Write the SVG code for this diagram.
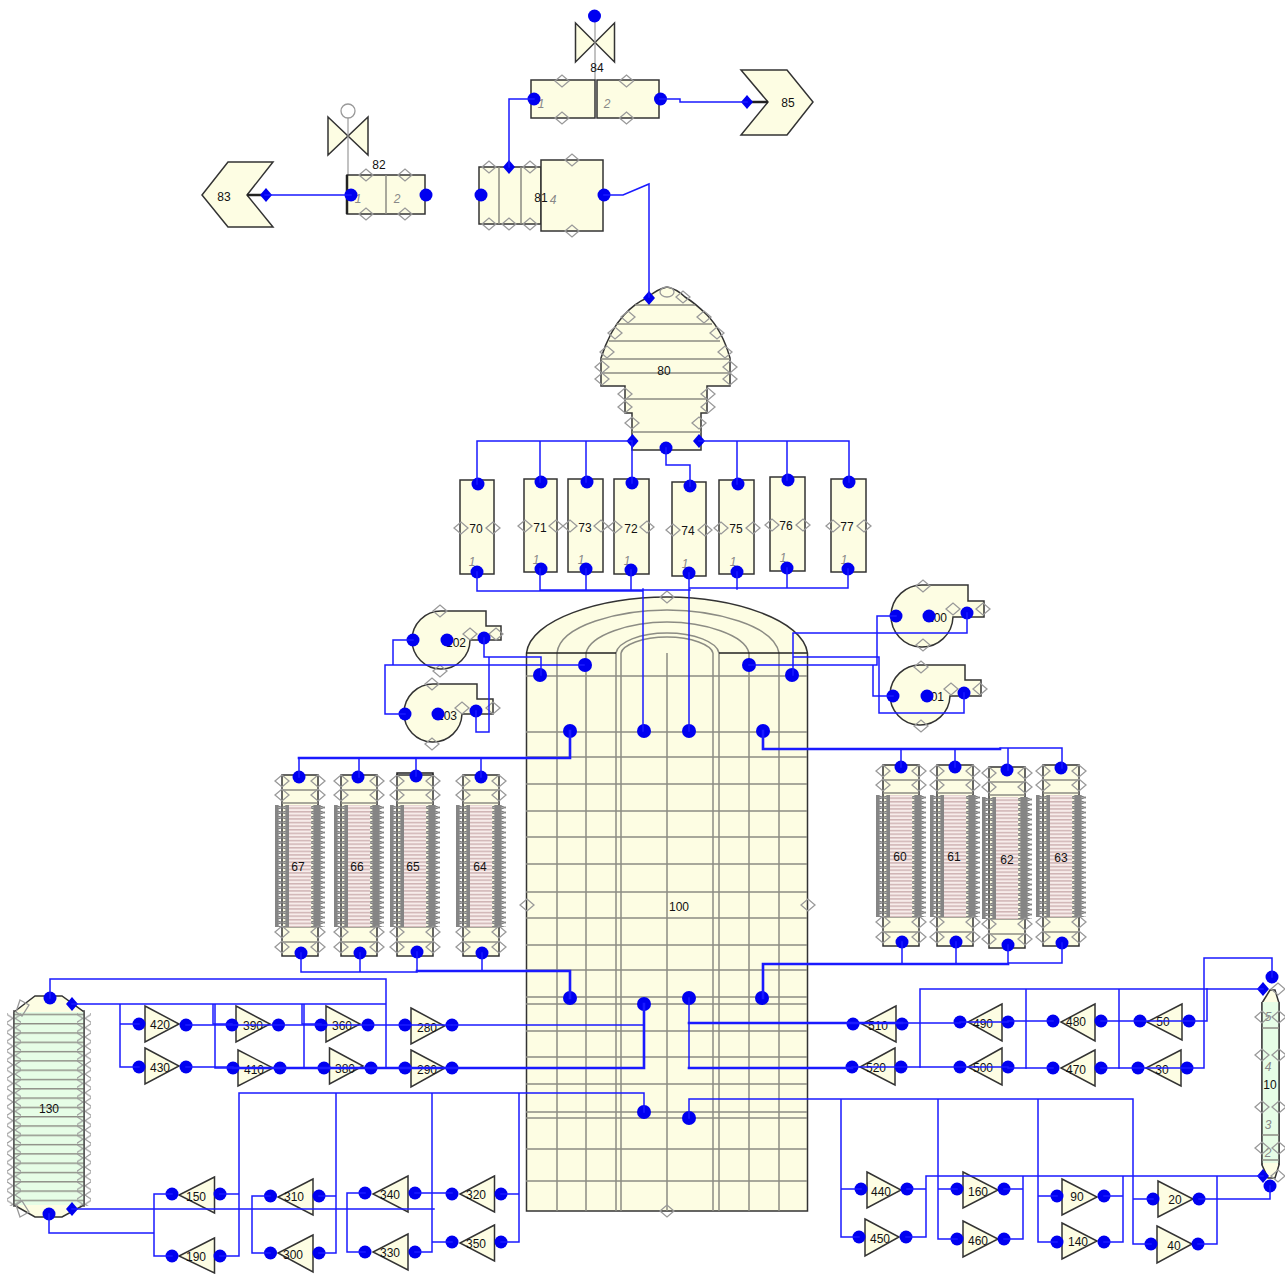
<svg xmlns="http://www.w3.org/2000/svg" width="1285" height="1274" viewBox="0 0 1285 1274">
<style>
.n{fill:#fdfde3;stroke:#333;stroke-width:1.5}
.e{fill:#e6fde6;stroke:#333;stroke-width:1.5}
.g{fill:none;stroke:#8c8c84;stroke-width:1.5}
.k{fill:none;stroke:#222;stroke-width:1.5}
.p{fill:#0000f0}
circle.p{r:6.5px}
#n100 circle.p{r:7px}
.t{font:12px "Liberation Sans",Arial,sans-serif;fill:#111;text-anchor:middle}
.l{font:italic 12px "Liberation Sans",Arial,sans-serif;fill:#888;text-anchor:middle}
.c{fill:none;stroke:#1a1aff;stroke-width:1.5;stroke-linecap:square}
.b{stroke-width:2.6}
.dm{fill:none;stroke:#999;stroke-width:1.3}
</style>
<defs>
<path id="d" class="dm" d="M-7 0L0-6L7 0L0 6Z"/>
<path id="bd" class="p" d="M-6 0L0-7L6 0L0 7Z"/>
<pattern id="ds" width="14" height="5" patternUnits="userSpaceOnUse"><path d="M0 2.5L7 0L14 2.5L7 5Z" fill="#bcbcbc" stroke="#7c7c7c" stroke-width="1.2"/><rect x="3.5" width="7" height="5" fill="#858585"/></pattern>
<pattern id="pk" width="22" height="3.6" patternUnits="userSpaceOnUse"><rect width="22" height="3.6" fill="#f7ecea"/><rect width="22" height="1.5" fill="#cfb4b4"/></pattern>
<pattern id="gl" width="70" height="9.3" patternUnits="userSpaceOnUse"><path d="M0 .7H70" stroke="#8c8c84" stroke-width="1.5"/></pattern>
<pattern id="sd" width="14" height="9.3" patternUnits="userSpaceOnUse"><path d="M1 4.6L7 .7L13 4.6L7 8.6Z" fill="none" stroke="#999" stroke-width="1.2"/></pattern>
<g id="hx">
<rect class="n" width="36" height="181"/>
<path class="g" d="M0 15H36M0 28H36M0 152H36M0 167H36"/>
<rect x="7" y="30" width="22" height="122" fill="url(#pk)"/>
<rect x="-7" y="30" width="14" height="122" fill="url(#ds)"/>
<rect x="29" y="30" width="14" height="122" fill="url(#ds)"/>
<use href="#d" y="6"/><use href="#d" y="20"/><use href="#d" x="36" y="6"/><use href="#d" x="36" y="20"/>
<use href="#d" y="157"/><use href="#d" y="172"/><use href="#d" x="36" y="157"/><use href="#d" x="36" y="172"/>
</g>
</defs>

<g id="n100">
<path class="n" d="M526.5 653C530 620 600 597 667 597C734 597 803 620 807.5 653V1211H526.5Z"/>
<path class="g" d="M557 653V1211M586 653V1211M616 653V1211M621 653V1211M667 653V1211M713 653V1211M719 653V1211M749 653V1211M779 653V1211"/>
<path class="g" d="M557 653C560 625 620 610 667 610C714 610 774 625 779 653M586 653C590 635 630 622 667 622C704 622 745 635 749 653M616 653C618 642 640 633 667 633C694 633 717 642 719 653M621 653C623 645 642 637 667 637C692 637 711 645 713 653"/>
<path class="g" d="M526 676H807M526 732H807M526 757H807M526 784H807M526 811H807M526 837H807M526 864H807M526 892H807M526 918H807M526 945H807M526 970H807M526 997H807M526 1004H807M526 1031H807M526 1057H807M526 1084H807M526 1112H807M526 1118H807M526 1149H807M526 1181H807"/>
<path class="k" d="M526 653H616M719 653H807"/>
<use href="#d" x="667" y="597"/><use href="#d" x="527" y="905"/><use href="#d" x="808" y="905"/><use href="#d" x="667" y="1211"/>
<text class="t" x="679" y="911">100</text>
<circle class="p" cx="540" cy="675" r="7"/><circle class="p" cx="585" cy="665" r="7"/><circle class="p" cx="570" cy="731" r="7"/><circle class="p" cx="644" cy="731" r="7"/><circle class="p" cx="689" cy="731" r="7"/><circle class="p" cx="749" cy="665" r="7"/><circle class="p" cx="792" cy="675" r="7"/><circle class="p" cx="763" cy="731" r="7"/>
<circle class="p" cx="570" cy="998" r="7"/><circle class="p" cx="644" cy="1004" r="7"/><circle class="p" cx="689" cy="998" r="7"/><circle class="p" cx="762" cy="998" r="7"/><circle class="p" cx="644" cy="1112" r="7"/><circle class="p" cx="689" cy="1118" r="7"/>
</g>

<g id="n84">
<path class="n" d="M575.5 23L614.5 62V23L575.5 62Z"/>
<path d="M595 16V80" stroke="#999" stroke-width="1.2"/>
<circle class="p" cx="594.5" cy="16" r="6.5"/>
<rect class="n" x="531" y="80" width="64" height="38"/><rect class="n" x="597" y="80" width="62" height="38"/>
<text class="t" x="597" y="72">84</text><text class="l" x="541" y="108">1</text><text class="l" x="607" y="108">2</text>
<use href="#d" x="562" y="81"/><use href="#d" x="626.5" y="81"/><use href="#d" x="562" y="118"/><use href="#d" x="626.5" y="118"/>
<circle class="p" cx="534" cy="99" r="6.5"/><circle class="p" cx="660.5" cy="99" r="6.5"/>
</g>
<g id="n85">
<polygon class="n" points="741,70 787,70 813,102 787,135 741,135 768,102"/>
<path d="M747 102H768" stroke="#222" stroke-width="2.5"/>
<text class="t" x="788" y="107">85</text><use href="#bd" x="747" y="102"/>
</g>
<g id="n82">
<path class="n" d="M328 117L368 155V117L328 155Z"/>
<path d="M348 118V175" stroke="#999" stroke-width="1.2"/>
<circle cx="348" cy="111" r="7" fill="#fff" stroke="#999" stroke-width="1.3"/>
<rect class="n" x="347" y="175" width="78" height="39"/>
<path class="g" d="M386 175V214"/><path d="M347 175V214" stroke="#222" stroke-width="2.5"/>
<text class="t" x="379" y="169">82</text><text class="l" x="358" y="203">1</text><text class="l" x="397" y="203">2</text>
<use href="#d" x="366" y="175"/><use href="#d" x="405" y="175"/><use href="#d" x="366" y="214"/><use href="#d" x="405" y="214"/>
<circle class="p" cx="351" cy="195" r="6"/><circle class="p" cx="426" cy="195" r="6.5"/>
</g>
<g id="n83">
<polygon class="n" points="273,162 228,162 202,195 228,227 273,227 247,195"/>
<path d="M247 195H265" stroke="#222" stroke-width="2.5"/>
<text class="t" x="224" y="201">83</text><use href="#bd" x="266" y="195"/>
</g>
<g id="n81">
<rect class="n" x="479" y="167" width="62" height="57"/>
<path class="g" d="M499 167V224M521 167V224"/>
<rect class="n" x="541" y="160" width="62" height="71"/>
<text class="t" x="541" y="202">81</text><text class="l" x="553" y="204">4</text>
<use href="#d" x="489" y="167"/><use href="#d" x="530" y="167"/><use href="#d" x="489" y="224"/><use href="#d" x="509" y="224"/><use href="#d" x="530" y="224"/><use href="#d" x="572" y="160"/><use href="#d" x="572" y="231"/>
<circle class="p" cx="481" cy="195" r="6.5"/><circle class="p" cx="604" cy="195" r="7"/><use href="#bd" x="509" y="167"/>
</g>
<g id="n80">
<path class="n" d="M667 287Q657 289 647 298Q635 303 624 315Q610 330 601 358V386H625V413H632V450H701V413H707V386H730V358Q722 330 707 315Q695 303 685 297Q677 289 667 287Z"/>
<path class="g" d="M635 305H695M616 324H712M609 341H720M601 359H730M601 373H730M625 399H707M632 432H701"/>
<ellipse class="dm" cx="667" cy="292" rx="7" ry="5"/>
<use href="#d" x="628" y="317"/><use href="#d" x="615" y="333"/><use href="#d" x="607" y="352"/><use href="#d" x="602" y="367"/><use href="#d" x="602" y="379"/><use href="#d" x="625" y="394"/><use href="#d" x="625" y="407"/><use href="#d" x="632" y="423"/>
<use href="#d" x="704" y="317"/><use href="#d" x="717" y="333"/><use href="#d" x="725" y="352"/><use href="#d" x="730" y="367"/><use href="#d" x="730" y="379"/><use href="#d" x="708" y="394"/><use href="#d" x="708" y="407"/><use href="#d" x="699" y="423"/><use href="#d" x="683" y="297"/>
<text class="t" x="664" y="375">80</text>
<use href="#bd" x="649" y="298"/><use href="#bd" x="632.5" y="441"/><use href="#bd" x="699" y="441"/><circle class="p" cx="666" cy="448" r="6.5"/>
</g>

<g id="n70"><rect class="n" x="460" y="480" width="34" height="94"/><use href="#d" x="461" y="528"/><use href="#d" x="493" y="528"/><text class="t" x="476" y="533">70</text><text class="l" x="472" y="566">1</text><circle class="p" cx="478" cy="484" r="6.5"/><circle class="p" cx="477" cy="572" r="6.5"/></g>
<g id="n71"><rect class="n" x="524" y="479" width="33" height="93"/><use href="#d" x="525" y="526"/><use href="#d" x="556" y="526"/><text class="t" x="540" y="532">71</text><text class="l" x="536" y="564">1</text><circle class="p" cx="541" cy="482" r="6.5"/><circle class="p" cx="541" cy="569" r="6"/></g>
<g id="n73"><rect class="n" x="568" y="479" width="35" height="93"/><use href="#d" x="570" y="526"/><use href="#d" x="601" y="526"/><text class="t" x="585" y="532">73</text><text class="l" x="581" y="564">1</text><circle class="p" cx="587" cy="482" r="6.5"/><circle class="p" cx="586" cy="569" r="6"/></g>
<g id="n72"><rect class="n" x="614" y="479" width="35" height="95"/><use href="#d" x="615" y="527"/><use href="#d" x="647" y="527"/><text class="t" x="631" y="533">72</text><text class="l" x="627" y="565">1</text><circle class="p" cx="632" cy="483" r="6.5"/><circle class="p" cx="631" cy="570" r="6.5"/></g>
<g id="n74"><rect class="n" x="672" y="482" width="34" height="94"/><use href="#d" x="673" y="530"/><use href="#d" x="705" y="530"/><text class="t" x="688" y="535">74</text><text class="l" x="685" y="568">1</text><circle class="p" cx="690" cy="486" r="6.5"/><circle class="p" cx="689" cy="573" r="6.5"/></g>
<g id="n75"><rect class="n" x="719" y="480" width="35" height="94"/><use href="#d" x="721" y="528"/><use href="#d" x="753" y="528"/><text class="t" x="736" y="533">75</text><text class="l" x="733" y="566">1</text><circle class="p" cx="738" cy="484" r="6.5"/><circle class="p" cx="737" cy="572" r="6"/></g>
<g id="n76"><rect class="n" x="770" y="477" width="35" height="94"/><use href="#d" x="772" y="525"/><use href="#d" x="803" y="525"/><text class="t" x="786" y="530">76</text><text class="l" x="783" y="562">1</text><circle class="p" cx="788" cy="480" r="6.5"/><circle class="p" cx="787" cy="568" r="6"/></g>
<g id="n77"><rect class="n" x="831" y="479" width="35" height="93"/><use href="#d" x="833" y="526"/><use href="#d" x="864" y="526"/><text class="t" x="847" y="531">77</text><text class="l" x="844" y="564">1</text><circle class="p" cx="849" cy="482" r="6"/><circle class="p" cx="848" cy="569" r="6"/></g>

<g id="n102"><path class="n" d="M441 611H486V626H501V640H470A29 29 0 1 1 441 611Z"/><use href="#d" x="440" y="611"/><use href="#d" x="440" y="671"/><use href="#d" x="470" y="634"/><use href="#d" x="496" y="634"/><text class="t" x="456" y="647">102</text><circle class="p" cx="413" cy="640" r="6"/><circle class="p" cx="447" cy="640" r="6"/><circle class="p" cx="484" cy="638" r="6"/></g>
<g id="n103"><path class="n" d="M433 684H477V699H493V714H462A29 29 0 1 1 433 684Z"/><use href="#d" x="432" y="684"/><use href="#d" x="432" y="744"/><use href="#d" x="462" y="708"/><use href="#d" x="493" y="708"/><text class="t" x="447" y="720">103</text><circle class="p" cx="405" cy="714" r="6"/><circle class="p" cx="438" cy="714" r="6"/><circle class="p" cx="476" cy="711" r="6"/></g>
<g id="n100b"><path class="n" d="M923 585H968V601H984V617H953A31 31 0 1 1 923 585Z"/><use href="#d" x="923" y="586"/><use href="#d" x="923" y="645"/><use href="#d" x="953" y="609"/><use href="#d" x="983" y="609"/><text class="t" x="937" y="622">100</text><circle class="p" cx="896" cy="616" r="6"/><circle class="p" cx="929" cy="616" r="6"/><circle class="p" cx="967" cy="613" r="6"/></g>
<g id="n101"><path class="n" d="M921 665H965V680H981V696H950A30 30 0 1 1 921 665Z"/><use href="#d" x="921" y="667"/><use href="#d" x="921" y="726"/><use href="#d" x="951" y="689"/><use href="#d" x="980" y="689"/><text class="t" x="934" y="701">101</text><circle class="p" cx="893" cy="696" r="6"/><circle class="p" cx="927" cy="696" r="6"/><circle class="p" cx="964" cy="693" r="6"/></g>

<g id="n67"><use href="#hx" x="282" y="775"/><text class="t" x="298" y="871">67</text><circle class="p" cx="299" cy="777" r="6.5"/><circle class="p" cx="301" cy="953" r="6.5"/></g>
<g id="n66"><use href="#hx" x="341" y="775"/><text class="t" x="357" y="871">66</text><circle class="p" cx="358" cy="777" r="6.5"/><circle class="p" cx="360" cy="953" r="6.5"/></g>
<g id="n65"><use href="#hx" x="397" y="775"/><path class="k" d="M397 775V773H433V775"/><text class="t" x="413" y="871">65</text><circle class="p" cx="416" cy="776" r="6"/><circle class="p" cx="417" cy="952" r="6"/></g>
<g id="n64"><use href="#hx" x="463" y="775"/><text class="t" x="480" y="871">64</text><circle class="p" cx="481" cy="777" r="6"/><circle class="p" cx="482" cy="953" r="6.5"/></g>
<g id="n60"><use href="#hx" x="883" y="765"/><text class="t" x="900" y="861">60</text><circle class="p" cx="901" cy="767" r="6.5"/><circle class="p" cx="902" cy="942" r="6"/></g>
<g id="n61"><use href="#hx" x="937" y="765"/><text class="t" x="954" y="861">61</text><circle class="p" cx="955" cy="767" r="6.5"/><circle class="p" cx="956" cy="942" r="6"/></g>
<g id="n62"><use href="#hx" x="989" y="767"/><text class="t" x="1007" y="864">62</text><circle class="p" cx="1007" cy="770" r="6"/><circle class="p" cx="1008" cy="945" r="6"/></g>
<g id="n63"><use href="#hx" x="1043" y="765"/><text class="t" x="1061" y="862">63</text><circle class="p" cx="1061" cy="768" r="6"/><circle class="p" cx="1062" cy="943" r="6"/></g>

<g id="n130">
<path class="n" d="M14 1012L35 996H62L84 1012V1205L62 1217H35L14 1205Z"/>
<rect class="e" x="14" y="1012" width="70" height="193" style="stroke:none"/>
<rect x="14" y="1013" width="70" height="192" fill="url(#gl)"/>
<rect x="7" y="1013" width="14" height="193" fill="url(#sd)"/><rect x="77" y="1013" width="14" height="193" fill="url(#sd)"/>
<path class="k" d="M14 1010V1207M84 1010V1207" style="stroke:#555"/>
<path class="dm" d="M20 1000L29 1005L22 1016L16 1012ZM20 1217L29 1212L22 1201L16 1205Z"/>
<text class="t" x="49" y="1113">130</text>
<circle class="p" cx="50" cy="998" r="6.5"/><use href="#bd" x="72" y="1004"/><circle class="p" cx="49" cy="1214" r="6.5"/><use href="#bd" x="72" y="1209"/>
</g>
<g id="n10">
<path class="n" d="M1262 1003L1270 990H1275L1279 1003V1165L1275 1178H1268L1262 1165Z"/>
<rect class="e" x="1262" y="1002" width="17" height="161" style="stroke:none"/>
<path class="k" d="M1262 1002V1165M1279 1002V1165" style="stroke:#444"/>
<path class="g" d="M1262 1028H1279M1262 1135H1279M1262 1160H1279"/>
<text class="l" x="1268" y="1021">5</text><text class="l" x="1268" y="1071">4</text><text class="l" x="1268" y="1129">3</text><text class="l" x="1268" y="1157">2</text><text class="t" x="1270" y="1089">10</text>
<use href="#d" x="1262" y="1017"/><use href="#d" x="1279" y="1017"/><use href="#d" x="1262" y="1055"/><use href="#d" x="1279" y="1055"/><use href="#d" x="1262" y="1107"/><use href="#d" x="1279" y="1107"/><use href="#d" x="1262" y="1148"/><use href="#d" x="1279" y="1148"/><use href="#d" x="1278" y="989"/><use href="#d" x="1278" y="1176"/>
<circle class="p" cx="1272" cy="977" r="6.5"/><use href="#bd" x="1263" y="989"/><use href="#bd" x="1263" y="1176"/><circle class="p" cx="1270" cy="1186" r="6.5"/>
</g>

<g id="n420"><polygon class="n" points="145,1006 179,1024 145,1042"/><text class="t" x="160" y="1029">420</text><circle class="p" cx="139" cy="1024" r="6"/><circle class="p" cx="186" cy="1025" r="6"/></g>
<g id="n430"><polygon class="n" points="145,1048 179,1066 145,1084"/><text class="t" x="160" y="1072">430</text><circle class="p" cx="139" cy="1067" r="6"/><circle class="p" cx="186" cy="1067" r="6"/></g>
<g id="n390"><polygon class="n" points="236,1006 270,1024 236,1042"/><text class="t" x="253" y="1030">390</text><circle class="p" cx="232" cy="1025" r="6"/><circle class="p" cx="278.5" cy="1025" r="6"/></g>
<g id="n410"><polygon class="n" points="238,1050 273,1068 238,1086"/><text class="t" x="254" y="1074">410</text><circle class="p" cx="233" cy="1068" r="6"/><circle class="p" cx="280" cy="1068" r="6"/></g>
<g id="n360"><polygon class="n" points="326,1006 360,1024 326,1042"/><text class="t" x="342" y="1030">360</text><circle class="p" cx="321" cy="1025" r="6"/><circle class="p" cx="368" cy="1025" r="6"/></g>
<g id="n380"><polygon class="n" points="329.5,1048 363,1066 329.5,1084"/><text class="t" x="345" y="1073">380</text><circle class="p" cx="324" cy="1068" r="6"/><circle class="p" cx="371" cy="1068" r="6"/></g>
<g id="n280"><polygon class="n" points="411,1008 444.5,1026 411,1044"/><text class="t" x="427" y="1032">280</text><circle class="p" cx="405" cy="1025" r="6"/><circle class="p" cx="452" cy="1025" r="6"/></g>
<g id="n290"><polygon class="n" points="411,1050 445,1068 411,1087"/><text class="t" x="427" y="1074">290</text><circle class="p" cx="405" cy="1068" r="6"/><circle class="p" cx="452" cy="1068" r="6"/></g>
<g id="n150"><polygon class="n" points="214.5,1177 179,1195 214.5,1213"/><text class="t" x="196" y="1201">150</text><circle class="p" cx="172" cy="1194" r="6"/><circle class="p" cx="220" cy="1194" r="6"/></g>
<g id="n190"><polygon class="n" points="214.5,1238 179,1256 214.5,1273"/><text class="t" x="196" y="1261">190</text><circle class="p" cx="172" cy="1256" r="6"/><circle class="p" cx="220" cy="1256" r="6"/></g>
<g id="n310"><polygon class="n" points="313,1179 278,1197 313,1215"/><text class="t" x="294" y="1201">310</text><circle class="p" cx="270.5" cy="1196" r="6"/><circle class="p" cx="319" cy="1196" r="6"/></g>
<g id="n300"><polygon class="n" points="313,1235 278,1253 313,1272"/><text class="t" x="293" y="1259">300</text><circle class="p" cx="270.5" cy="1253" r="6"/><circle class="p" cx="319" cy="1253" r="6"/></g>
<g id="n340"><polygon class="n" points="408,1176 373,1194 408,1212"/><text class="t" x="390" y="1199">340</text><circle class="p" cx="365" cy="1193" r="6"/><circle class="p" cx="415" cy="1193" r="6"/></g>
<g id="n330"><polygon class="n" points="408,1234 373,1252 408,1270"/><text class="t" x="390" y="1257">330</text><circle class="p" cx="365" cy="1252" r="6"/><circle class="p" cx="415" cy="1252" r="6"/></g>
<g id="n320"><polygon class="n" points="494.5,1176 460,1194 494.5,1212"/><text class="t" x="476" y="1199">320</text><circle class="p" cx="452" cy="1194" r="6"/><circle class="p" cx="501" cy="1194" r="6"/></g>
<g id="n350"><polygon class="n" points="494.5,1225 460,1243 494.5,1261"/><text class="t" x="476" y="1248">350</text><circle class="p" cx="452" cy="1242" r="6"/><circle class="p" cx="501" cy="1242" r="6"/></g>
<g id="n510"><polygon class="n" points="896,1006 862,1024 896,1042"/><text class="t" x="878" y="1030">510</text><circle class="p" cx="853" cy="1024" r="6"/><circle class="p" cx="902" cy="1024" r="6"/></g>
<g id="n520"><polygon class="n" points="895,1048 860,1067 895,1085"/><text class="t" x="876" y="1072">520</text><circle class="p" cx="852" cy="1067" r="6"/><circle class="p" cx="901" cy="1067" r="6"/></g>
<g id="n490"><polygon class="n" points="1002,1004 968,1022 1002,1041"/><text class="t" x="983" y="1028">490</text><circle class="p" cx="960" cy="1022" r="6"/><circle class="p" cx="1008" cy="1022" r="6"/></g>
<g id="n500"><polygon class="n" points="1002,1048 968,1067 1002,1085"/><text class="t" x="983" y="1072">500</text><circle class="p" cx="960" cy="1067" r="6"/><circle class="p" cx="1008" cy="1067" r="6"/></g>
<g id="n480"><polygon class="n" points="1095,1004 1061,1022 1095,1041"/><text class="t" x="1076" y="1026">480</text><circle class="p" cx="1053" cy="1021" r="6"/><circle class="p" cx="1101" cy="1021" r="6"/></g>
<g id="n470"><polygon class="n" points="1095,1050 1061,1068 1095,1086"/><text class="t" x="1076" y="1074">470</text><circle class="p" cx="1053" cy="1068" r="6"/><circle class="p" cx="1101" cy="1068" r="6"/></g>
<g id="n50"><polygon class="n" points="1182,1004 1147,1022 1182,1040"/><text class="t" x="1163" y="1026">50</text><circle class="p" cx="1140" cy="1021" r="6"/><circle class="p" cx="1189" cy="1021" r="6"/></g>
<g id="n30"><polygon class="n" points="1181,1050 1146,1068 1181,1086"/><text class="t" x="1162" y="1074">30</text><circle class="p" cx="1138" cy="1068" r="6"/><circle class="p" cx="1187" cy="1068" r="6"/></g>
<g id="n440"><polygon class="n" points="867,1172 901,1190 867,1208"/><text class="t" x="881" y="1196">440</text><circle class="p" cx="861" cy="1189" r="6"/><circle class="p" cx="907" cy="1189" r="6"/></g>
<g id="n450"><polygon class="n" points="865,1219 899,1237 865,1256"/><text class="t" x="880" y="1243">450</text><circle class="p" cx="859" cy="1237" r="6"/><circle class="p" cx="906" cy="1237" r="6"/></g>
<g id="n160"><polygon class="n" points="963,1172 998,1190 963,1208"/><text class="t" x="978" y="1196">160</text><circle class="p" cx="957" cy="1189" r="6"/><circle class="p" cx="1004" cy="1189" r="6"/></g>
<g id="n460"><polygon class="n" points="963,1221 998,1239 963,1257"/><text class="t" x="978" y="1245">460</text><circle class="p" cx="957" cy="1239" r="6"/><circle class="p" cx="1004" cy="1239" r="6"/></g>
<g id="n90"><polygon class="n" points="1062,1179 1097,1197 1062,1215"/><text class="t" x="1077" y="1201">90</text><circle class="p" cx="1057" cy="1196" r="6"/><circle class="p" cx="1104" cy="1196" r="6"/></g>
<g id="n140"><polygon class="n" points="1062,1223 1097,1241 1062,1259"/><text class="t" x="1078" y="1246">140</text><circle class="p" cx="1057" cy="1242" r="6"/><circle class="p" cx="1104" cy="1242" r="6"/></g>
<g id="n20"><polygon class="n" points="1158,1181 1193,1199 1158,1217"/><text class="t" x="1175" y="1204">20</text><circle class="p" cx="1153" cy="1199" r="6"/><circle class="p" cx="1199" cy="1199" r="6"/></g>
<g id="n40"><polygon class="n" points="1157,1226 1192,1244 1157,1263"/><text class="t" x="1174" y="1250">40</text><circle class="p" cx="1151" cy="1244" r="6"/><circle class="p" cx="1198" cy="1244" r="6"/></g>

<g id="connectors">
<path class="c" d="M660 99H680V102H747M534 99H509V167M604 195H623L649 184V297M265 195H351"/>
<path class="c" d="M632 441H477V484M540 441V482M586 441V482M632 441V483M699 441H849V482M737 441V484M787 441V480M666 448V465H690V486"/>
<path class="c" d="M477 572V591H643M643 589V731M540 569V590M586 569V590M631 570V590M689 573V731M737 572V589M787 568V588M848 569V588H689M540 590H690"/>
<path class="c" d="M413 640H393V665M385 665H584M385 665V714H405M484 638V657H541V675M489 657V732H476V711"/>
<path class="c b" d="M570 731V758H299"/><path class="c" d="M299 758V777M359 758V777M416 758V776M481 758V777"/>
<path class="c" d="M967 613V633H793V675M896 616H877V665M749 665H877M873 665V696H893M964 693V713H879V657H793"/>
<path class="c b" d="M763 731V749H1000"/><path class="c" d="M1000 748H1062V768M901 749V767M955 749V767M1008 749V770"/>
<path class="c" d="M301 953V972H417M360 953V972M417 952V971M482 953V971"/><path class="c b" d="M417 971H570V998"/>
<path class="c" d="M902 942V964M956 942V964M1008 945V964M1062 943V963H1008"/><path class="c b" d="M1008 964H763V998"/>
<path class="c" d="M50 998V979H386V1068M72 1004H386M120 1004V1067H139M120 1024H139M213 1004V1024H232M215 1004V1068H233M302 1004V1024H321M304 1004V1068H324"/>
<path class="c" d="M186 1025H232M186 1067H233M232 1025H452"/>
<path class="c" d="M452 1025H644"/><path class="c b" d="M233 1068H644V1004"/><path class="c" d="M644 1004V1025"/>
<path class="c" d="M49 1214V1233H154M154 1194V1256M154 1194H172M154 1256H172M72 1209H434M252 1196V1253M252 1196H270M252 1253H270M347 1193V1252M347 1193H365M347 1252H365"/>
<path class="c" d="M644 1112V1093H239V1256M220 1194H239M220 1256H239M336 1093V1253M319 1196H336M319 1253H336M432 1093V1252M415 1252H432M415 1193H452M432 1242H452M519 1093V1242H501M501 1194H519"/>
<path class="c" d="M689 998V1068"/><path class="c b" d="M689 1023H902M689 1068H852"/>
<path class="c" d="M902 1023H960M852 1067H1008M960 1022H1008M1008 1021H1053M1008 1068H1053M1101 1021H1207M1101 1068H1204M1204 1068V958H1272V977M1207 1021V989"/>
<path class="c" d="M1263 989H920V1067M1026 989V1068M1119 989V1068"/>
<path class="c" d="M689 1118V1099H1133V1244M841 1099V1237H859M841 1189H861M938 1099V1239H957M938 1189H957M1038 1099V1242H1057M1038 1196H1057M1133 1199H1153M1133 1244H1151"/>
<path class="c" d="M1263 1176H926V1237H906M907 1189H926M1023 1176V1239H1004M1004 1189H1023M1123 1176V1242H1104M1104 1196H1123M1217 1176V1244H1198M1199 1199H1270V1186"/>
</g>
</svg>
